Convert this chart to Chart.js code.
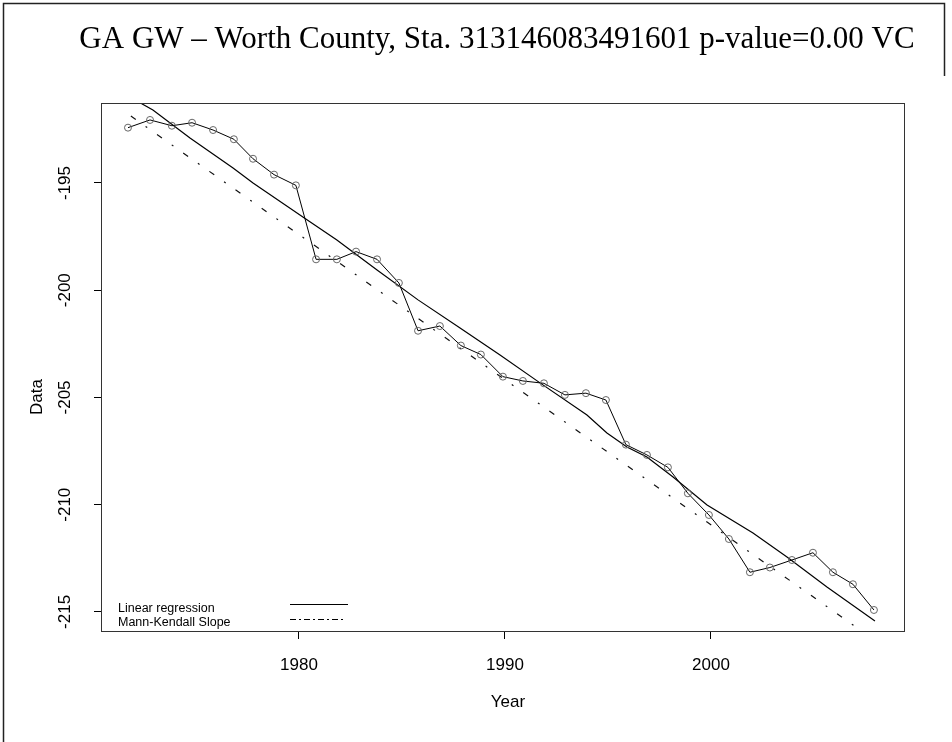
<!DOCTYPE html>
<html>
<head>
<meta charset="utf-8">
<script src="https://cdn.jsdelivr.net/npm/chart.js@4/dist/chart.umd.min.js"></script>
<style>
  html, body { margin: 0; padding: 0; background: #fff; }
  #wrap { width: 952px; height: 742px; }
</style>
</head>
<body>
<div id="wrap"><canvas id="c" width="952" height="742"></canvas></div>
<script>
// observed levels (decimal year, value)
const obsYears = [1971.70, 1972.77, 1973.83, 1974.81, 1975.83, 1976.84, 1977.77, 1978.79, 1979.85,
  1980.83, 1981.84, 1982.77, 1983.79, 1984.85, 1985.78, 1986.84, 1987.86, 1988.83, 1989.90,
  1990.87, 1991.89, 1992.91, 1993.93, 1994.90, 1995.87, 1996.89, 1997.91, 1998.88, 1999.90,
  2000.87, 2001.89, 2002.86, 2003.93, 2004.95, 2005.92, 2006.89, 2007.91];
const obsValues = [-192.42, -192.06, -192.33, -192.19, -192.53, -192.96, -193.87, -194.61, -195.11,
  -198.56, -198.56, -198.20, -198.56, -199.66, -201.89, -201.67, -202.58, -203.00, -204.03,
  -204.23, -204.34, -204.88, -204.80, -205.12, -207.20, -207.68, -208.26, -209.47, -210.48,
  -211.60, -213.15, -212.93, -212.58, -212.24, -213.15, -213.71, -214.91];

// "Linear regression" curve vertices
const regYears = [1971.70, 1972.91, 1974.71, 1976.80, 1977.77, 1980.19, 1981.84, 1983.79, 1985.78,
  1987.82, 1989.76, 1991.70, 1993.98, 1994.95, 1995.92, 1996.89, 1998.16, 1999.81, 2002.04,
  2003.69, 2005.63, 2007.96];
const regValues = [-190.94, -191.60, -192.90, -194.30, -195.00, -196.59, -197.66, -199.06, -200.45,
  -201.76, -203.02, -204.32, -205.82, -206.66, -207.31, -207.78, -208.71, -210.01, -211.32,
  -212.44, -213.84, -215.42];

// Mann-Kendall slope line end points
const mkYears = [1971.84, 2007.96];
const mkValues = [-191.88, -216.33];

const xTicks = [1980, 1990, 2000];
const yTicks = [-195, -200, -205, -210, -215];

const titleText = 'GA GW \u2013 Worth County, Sta. 313146083491601 p-value=0.00 VC';
const xTitle = 'Year';
const yTitle = 'Data';
const legendLabels = ['Linear regression', 'Mann-Kendall Slope'];

const toPts = (xs, ys) => xs.map((x, i) => ({ x: x, y: ys[i] }));

const decor = {
  id: 'decor',
  afterDraw(chart) {
    const ctx = chart.ctx;
    const a = chart.chartArea;
    const xs = chart.scales.x, ys = chart.scales.y;
    ctx.save();

    // outer frame (right edge only shows near the top in the source)
    ctx.strokeStyle = '#222';
    ctx.lineWidth = 1.5;
    ctx.beginPath();
    ctx.moveTo(3.5, 742);
    ctx.lineTo(3.5, 3.5);
    ctx.lineTo(944.5, 3.5);
    ctx.lineTo(944.5, 76);
    ctx.stroke();

    // plot box
    ctx.lineWidth = 1;
    ctx.strokeStyle = '#333';
    ctx.strokeRect(a.left + 0.5, a.top + 0.5, a.right - a.left, a.bottom - a.top);

    // title
    ctx.fillStyle = '#000';
    ctx.font = '31px "Liberation Serif", "Times New Roman", serif';
    ctx.textAlign = 'center';
    ctx.textBaseline = 'alphabetic';
    ctx.fillText(titleText, 497, 48);

    // x tick labels
    ctx.font = '17px "Liberation Sans", Arial, sans-serif';
    xTicks.forEach(t => ctx.fillText(String(t), xs.getPixelForValue(t), 670));
    ctx.fillText(xTitle, 508, 707);

    // y tick labels, rotated
    ctx.textBaseline = 'middle';
    yTicks.forEach(t => {
      ctx.save();
      ctx.translate(65, ys.getPixelForValue(t));
      ctx.rotate(-Math.PI / 2);
      ctx.fillText(String(t), 0, 0);
      ctx.restore();
    });
    ctx.save();
    ctx.translate(37, 397);
    ctx.rotate(-Math.PI / 2);
    ctx.fillText(yTitle, 0, 0);
    ctx.restore();

    // legend
    ctx.textAlign = 'left';
    ctx.textBaseline = 'alphabetic';
    ctx.font = '12.5px "Liberation Sans", Arial, sans-serif';
    ctx.fillText(legendLabels[0], 118, 612);
    ctx.fillText(legendLabels[1], 118, 626);
    ctx.strokeStyle = '#000';
    ctx.lineWidth = 1;
    ctx.beginPath();
    ctx.moveTo(290, 604.5);
    ctx.lineTo(348, 604.5);
    ctx.stroke();
    ctx.setLineDash([6, 3, 2, 3]);
    ctx.beginPath();
    ctx.moveTo(290, 619.5);
    ctx.lineTo(346, 619.5);
    ctx.stroke();
    ctx.restore();
  }
};

new Chart(document.getElementById('c'), {
  type: 'line',
  data: {
    datasets: [
      {
        data: toPts(obsYears, obsValues),
        borderColor: '#000',
        borderWidth: 1,
        pointRadius: 3.5,
        pointStyle: 'circle',
        pointBorderColor: '#666',
        pointBackgroundColor: 'rgba(255,255,255,0)',
        pointBorderWidth: 1,
        tension: 0
      },
      {
        data: toPts(regYears, regValues),
        borderColor: '#000',
        borderWidth: 1.2,
        pointRadius: 0,
        tension: 0
      },
      {
        data: toPts(mkYears, mkValues),
        borderColor: '#111',
        borderWidth: 1.2,
        borderDash: [6, 12, 2, 12],
        pointRadius: 0,
        tension: 0
      }
    ]
  },
  options: {
    responsive: false,
    animation: false,
    layout: { padding: { left: 0, top: 103, right: 48, bottom: 0 } },
    plugins: { legend: { display: false }, title: { display: false }, tooltip: { enabled: false } },
    scales: {
      x: {
        type: 'linear',
        min: 1970.39,
        max: 2009.37,
        afterFit: s => { s.height = 111; },
        ticks: { display: false, stepSize: 10, includeBounds: false },
        grid: { drawOnChartArea: false, drawTicks: true, tickLength: 8, color: '#000' },
        border: { display: true, color: '#000', width: 1 }
      },
      y: {
        type: 'linear',
        min: -215.89,
        max: -191.27,
        afterFit: s => { s.width = 101; },
        ticks: { display: false, stepSize: 5, includeBounds: false },
        grid: { drawOnChartArea: false, drawTicks: true, tickLength: 7, color: '#000' },
        border: { display: true, color: '#000', width: 1 }
      }
    }
  },
  plugins: [decor]
});
</script>
</body>
</html>
